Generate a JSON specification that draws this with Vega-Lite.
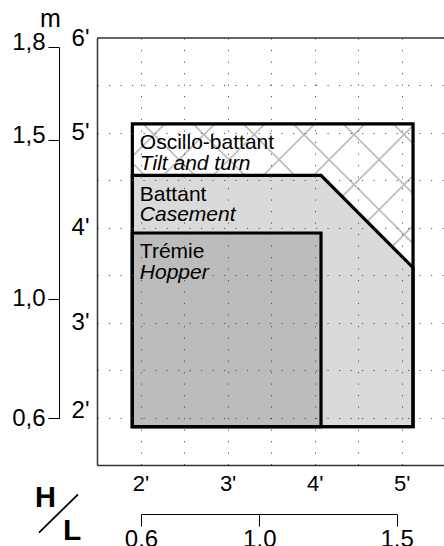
{
  "$schema": "https://vega.github.io/schema/vega-lite/v6.json",
  "width": 347,
  "height": 427,
  "autosize": {"type": "none"},
  "padding": {"left": 97, "top": 38, "right": 0, "bottom": 81},
  "view": {"stroke": null, "fill": null},
  "config": {
    "font": "Liberation Sans",
    "view": {"stroke": null, "fill": null},
    "axis": {"labelColor": "#000", "titleColor": "#000", "labelFont": "Liberation Sans", "titleFont": "Liberation Sans"},
    "axisRight": {"domain": false, "ticks": false, "labels": false, "grid": false},
    "axisTop": {"domain": false, "ticks": false, "labels": false, "grid": false}
  },
  "datasets": {
    "windows": [
      {"type": "Oscillo-battant", "en": "Tilt and turn", "x": 1.906, "x2": 5.13, "y": 5.096, "y2": 1.905},
      {"type": "Battant", "en": "Casement", "x": 1.906, "x2": 5.13, "y": 4.553, "y2": 1.905},
      {"type": "Trémie", "en": "Hopper", "x": 1.906, "x2": 4.073, "y": 3.945, "y2": 1.905}
    ],
    "casement": [
      {"x": 1.906, "y": 4.553, "y2": 1.905},
      {"x": 4.073, "y": 4.553, "y2": 1.905},
      {"x": 5.13, "y": 3.579, "y2": 1.905}
    ],
    "hatch": [
      {"x": 4.902, "y": 5.096, "x2": 5.13, "y2": 4.887},
      {"x": 4.328, "y": 5.096, "x2": 5.13, "y2": 4.36},
      {"x": 3.754, "y": 5.096, "x2": 5.13, "y2": 3.832},
      {"x": 3.18, "y": 5.096, "x2": 4.831, "y2": 3.579},
      {"x": 2.605, "y": 5.096, "x2": 4.257, "y2": 3.579},
      {"x": 2.031, "y": 5.096, "x2": 3.683, "y2": 3.579},
      {"x": 1.906, "y": 4.684, "x2": 3.108, "y2": 3.579},
      {"x": 1.906, "y": 4.753, "x2": 2.279, "y2": 5.096},
      {"x": 1.906, "y": 4.226, "x2": 2.853, "y2": 5.096},
      {"x": 1.906, "y": 3.698, "x2": 3.428, "y2": 5.096},
      {"x": 2.35, "y": 3.579, "x2": 4.002, "y2": 5.096},
      {"x": 2.925, "y": 3.579, "x2": 4.576, "y2": 5.096},
      {"x": 3.499, "y": 3.579, "x2": 5.13, "y2": 5.077},
      {"x": 4.073, "y": 3.579, "x2": 5.13, "y2": 4.55},
      {"x": 4.647, "y": 3.579, "x2": 5.13, "y2": 4.022}
    ],
    "frame": [{"x": 1.5, "x2": 5.4855, "y": 6}],
    "slash": [{"x": 0.834, "y": 0.787, "x2": 1.282, "y2": 1.191}],
    "meters": [{"m": 0.6}, {"m": 1.0}, {"m": 1.5}, {"m": 1.8}]
  },
  "layer": [
    {
      "layer": [
        {
          "data": {"name": "windows"},
          "transform": [{"filter": "datum.type === 'Oscillo-battant'"}],
          "mark": {"type": "rect", "fill": "white", "strokeWidth": 0},
          "encoding": {
            "x": {
              "field": "x", "type": "quantitative",
              "scale": {"domain": [1.5, 5.4855], "nice": false, "zero": false},
              "axis": {
                "orient": "bottom",
                "values": [2, 2.5, 3, 3.5, 4, 4.5, 5],
                "labelExpr": "datum.value % 1 === 0 ? datum.value + \"'\" : ''",
                "ticks": false, "tickSize": 0,
                "labelPadding": 8, "labelFontSize": 22, "labelAngle": 0,
                "labelFlush": false, "labelOverlap": false,
                "domain": true, "domainColor": "#333", "domainWidth": 1.5,
                "grid": true, "gridColor": "#555", "gridDash": [1.2, 10.3], "gridWidth": 1,
                "zindex": 1,
                "title": "L", "titleFontSize": 30, "titleFontWeight": "bold",
                "titleX": -25.3, "titleY": 74.3, "titleAlign": "center", "titleBaseline": "alphabetic"
              }
            },
            "x2": {"field": "x2"},
            "y": {
              "field": "y", "type": "quantitative",
              "scale": {"domain": [1.5, 6], "nice": false, "zero": false},
              "axis": {
                "orient": "left",
                "values": [2, 2.5, 3, 3.5, 4, 4.5, 5, 5.5, 6],
                "labelExpr": "datum.value % 1 === 0 ? datum.value + \"'\" : ''",
                "ticks": false, "tickSize": 0,
                "labelPadding": 8, "labelFontSize": 24,
                "labelBaseline": {"condition": {"test": "datum.value === 2", "value": "alphabetic"}, "value": "middle"},
                "labelFlush": false, "labelOverlap": false,
                "domain": true, "domainColor": "#333", "domainWidth": 1.5,
                "grid": true, "gridColor": "#555", "gridDash": [1.2, 10.3], "gridWidth": 1,
                "zindex": 1,
                "title": "H", "titleAngle": 0, "titleFontSize": 29, "titleFontWeight": "bold",
                "titleX": -52, "titleY": 468.7, "titleAlign": "center", "titleBaseline": "alphabetic"
              }
            },
            "y2": {"field": "y2"}
          }
        },
        {
          "data": {"name": "hatch"},
          "mark": {"type": "rule", "color": "#bdbdbd", "strokeWidth": 1.7},
          "encoding": {
            "x": {"field": "x", "type": "quantitative"},
            "y": {"field": "y", "type": "quantitative"},
            "x2": {"field": "x2"},
            "y2": {"field": "y2"}
          }
        },
        {
          "data": {"name": "casement"},
          "mark": {"type": "area", "fill": "#dadada", "stroke": "#000", "strokeWidth": 3.2, "opacity": 1, "interpolate": "linear", "strokeJoin": "miter"},
          "encoding": {
            "x": {"field": "x", "type": "quantitative"},
            "y": {"field": "y", "type": "quantitative"},
            "y2": {"field": "y2"}
          }
        },
        {
          "data": {"name": "windows"},
          "transform": [{"filter": "datum.type === 'Trémie'"}],
          "mark": {"type": "rect", "fill": "#bcbcbc", "stroke": "#000", "strokeWidth": 3.2},
          "encoding": {
            "x": {"field": "x", "type": "quantitative"},
            "x2": {"field": "x2"},
            "y": {"field": "y", "type": "quantitative"},
            "y2": {"field": "y2"}
          }
        },
        {
          "data": {"name": "windows"},
          "transform": [{"filter": "datum.type === 'Oscillo-battant'"}],
          "mark": {"type": "rect", "fillOpacity": 0, "stroke": "#000", "strokeWidth": 3.2},
          "encoding": {
            "x": {"field": "x", "type": "quantitative"},
            "x2": {"field": "x2"},
            "y": {"field": "y", "type": "quantitative"},
            "y2": {"field": "y2"}
          }
        },
        {
          "data": {"name": "windows"},
          "mark": {"type": "text", "align": "left", "baseline": "alphabetic", "dx": 7.5, "dy": 25.5, "fontSize": 21, "font": "Liberation Sans", "color": "#000"},
          "encoding": {
            "x": {"field": "x", "type": "quantitative"},
            "y": {"field": "y", "type": "quantitative"},
            "text": {"field": "type"}
          }
        },
        {
          "data": {"name": "windows"},
          "mark": {"type": "text", "align": "left", "baseline": "alphabetic", "dx": 7.5, "dy": 46, "fontSize": 21, "fontStyle": "italic", "font": "Liberation Sans", "color": "#000"},
          "encoding": {
            "x": {"field": "x", "type": "quantitative"},
            "y": {"field": "y", "type": "quantitative"},
            "text": {"field": "en"}
          }
        },
        {
          "data": {"name": "frame"},
          "mark": {"type": "rule", "color": "#333", "strokeWidth": 1.5},
          "encoding": {
            "x": {"field": "x", "type": "quantitative"},
            "x2": {"field": "x2"},
            "y": {"field": "y", "type": "quantitative"}
          }
        },
        {
          "data": {"name": "slash"},
          "mark": {"type": "rule", "color": "#000", "strokeWidth": 1.8},
          "encoding": {
            "x": {"field": "x", "type": "quantitative"},
            "x2": {"field": "x2"},
            "y": {"field": "y", "type": "quantitative"},
            "y2": {"field": "y2"}
          }
        }
      ]
    },
    {
      "data": {"name": "meters"},
      "mark": {"type": "point", "opacity": 0},
      "encoding": {
        "x": {
          "field": "m", "type": "quantitative",
          "scale": {"domain": [0.6, 1.0, 1.5], "range": [44, 162.3, 299.7], "nice": false, "zero": false},
          "axis": {
            "orient": "bottom", "offset": 49,
            "values": [0.6, 1.0, 1.5], "format": ".1f",
            "ticks": true, "tickSize": 12, "tickColor": "#000", "tickWidth": 1,
            "domain": true, "domainColor": "#000", "domainWidth": 1,
            "labelPadding": 1, "labelFontSize": 24, "labelFlush": false, "labelOverlap": false,
            "grid": false, "title": null
          }
        },
        "y": {
          "field": "m", "type": "quantitative",
          "scale": {"domain": [0.6, 1.0, 1.5, 1.8], "range": [380.3, 260.7, 102, 9], "nice": false, "zero": false},
          "axis": {
            "orient": "left", "offset": 38,
            "values": [0.6, 1.0, 1.5, 1.8],
            "labelExpr": "replace(format(datum.value, '.1f'), '.', ',')",
            "ticks": true, "tickSize": 11, "tickColor": "#000", "tickWidth": 1,
            "domain": true, "domainColor": "#000", "domainWidth": 1,
            "labelPadding": 3, "labelFontSize": 24, "labelFlush": false, "labelOverlap": false,
            "labelOffset": {"condition": {"test": "datum.value >= 1.5", "value": -5}, "value": 0},
            "grid": false,
            "title": "m", "titleAngle": 0, "titleFontSize": 25, "titleFontWeight": "normal",
            "titleX": -9, "titleY": -12, "titleAlign": "center", "titleBaseline": "alphabetic"
          }
        }
      }
    }
  ],
  "resolve": {"scale": {"x": "independent", "y": "independent"}}
}
